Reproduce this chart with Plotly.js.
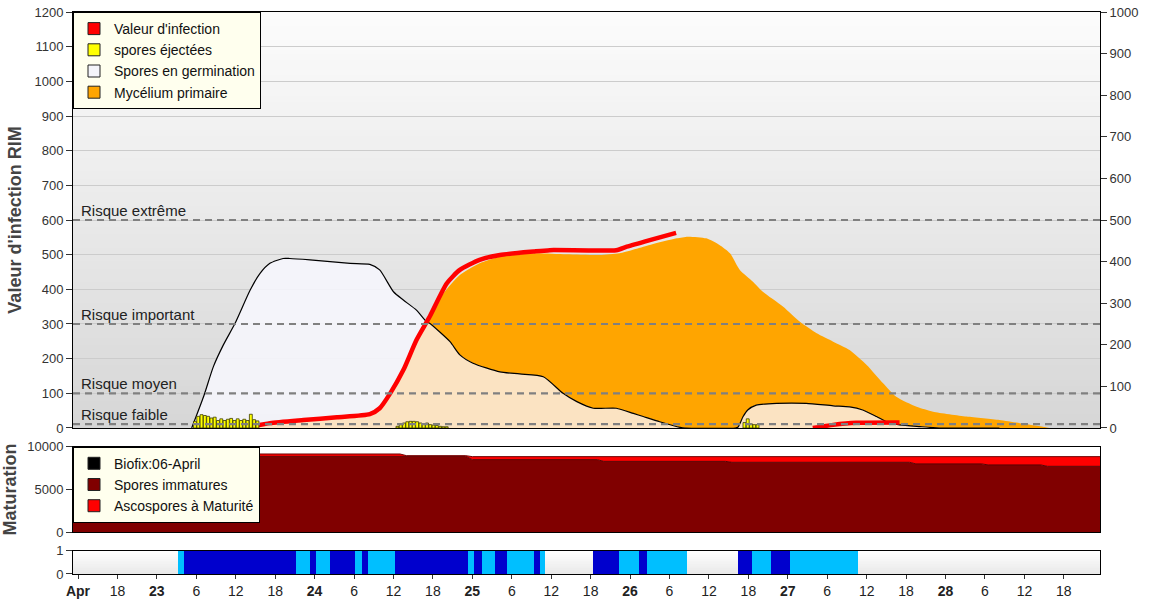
<!DOCTYPE html>
<html><head><meta charset="utf-8">
<script src="https://cdn.plot.ly/plotly-3.0.1.min.js"></script>
<style>html,body{margin:0;padding:0;background:#fff}#chart{width:1152px;height:599px}</style>
</head><body><div id="chart"></div>
<script>
const FONT = 'Arial, "Liberation Sans", sans-serif';
const X_RANGE = [11.24, 167.5];   // hours since 22 April 00:00

// x-axis ticks (every 6 h)
const tickHours = [12,18,24,30,36,42,48,54,60,66,72,78,84,90,96,102,108,114,120,126,132,138,144,150,156,162];
const tickLabels = ['<b>Apr</b>','18','<b>23</b>','6','12','18','<b>24</b>','6','12','18','<b>25</b>','6','12','18','<b>26</b>','6','12','18','<b>27</b>','6','12','18','<b>28</b>','6','12','18'];

// Spores en germination
const germHours  = [29.3,31.1,32.6,34.1,35.9,38.2,39.7,41.2,43.2,44.2,47.3,53.4,56.4,57.9,60.0,61.5,63.5,65.0,65.5,68.6,70.1,72.1,76.2,79.2,82.8,85.8,87.9,90.4,93.9,96.5,98.0,100.5,103.6,104.5,112.0,112.4,113.2,113.9,115.2,118.3,122.8,126.9,129.4,131.4,133.5,135.0,137.0,140.1,143.1,152.2];
const germValues = [0,90,177,239,302,398,446,475,489,489,485,475,472,456,393,369,340,307,302,249,211,187,162,156,148,100,76,57,57,42,33,18,2,0,0,2,33,52,66,71,71,64,61,52,33,18,9,4,0,0];

// infected part of germinating spores (peach area)
const incubHours  = [38.4,41.2,46.3,51.4,56.4,57.9,59.5,61.5,63.5,65.0,65.5,68.6,70.1,72.1,76.2,79.2,82.8,85.8,87.9,90.4,93.9,96.5,98.0,100.5,103.6,104.5,112.0,112.4,113.2,113.9,115.2,118.3,122.8,126.9,129.4,131.4,133.5,135.0,137.0,140.1,143.1];
const incubValues = [4,14,23,31,40,57,100,167,254,307,302,249,211,187,162,156,148,100,76,57,57,42,33,18,2,0,0,2,33,52,66,71,71,64,61,52,33,18,9,4,0];

// Mycélium primaire
const myceliumHours  = [65.0,67.6,70.1,73.1,76.2,81.3,86.3,91.4,94.4,99.0,103.1,104.8,107.6,109.6,111.2,112.7,114.7,116.2,119.3,121.8,124.4,126.9,129.4,132.0,134.5,136.5,139.6,142.1,147.2,152.2,155.3,159.1,159.8];
const myceliumValues = [307,388,441,475,494,504,501,499,504,528,547,552,547,528,504,456,422,393,350,307,273,249,225,182,129,90,61,47,33,23,14,3,0];

// Valeur d'infection
const infectionHours  = [38.4,41.2,46.3,51.4,56.4,57.9,59.5,61.5,63.5,65.5,68.1,70.1,73.1,76.2,81.3,83.8,93.9,95.5,99.0,103.0,null,123.8,126.9,130.4,137.0];
const infectionValues = [4,14,23,31,40,57,100,167,254,321,417,456,485,499,509,513,513,523,542,563,null,0,9,15,16];

// spores éjectées (right axis units)
const ejectHours  = [29.8,30.3,30.8,31.3,31.8,32.3,32.8,33.3,33.8,34.3,34.8,35.3,35.8,36.3,36.8,37.3,37.8,38.3,38.8,39.3,
                     60.6,61.1,61.6,62.1,62.6,63.1,63.6,64.1,64.6,65.1,65.6,66.1,66.6,67.1,67.6,68.1,
                     113.4,113.9,114.4,114.9,115.4];
const ejectValues = [16,28,32,30,28,24,26,18,22,18,21,23,18,22,18,21,18,33,20,17,
                     4,8,12,15,16,16,15,12,10,12,8,7,6,4,3,3,
                     13,22,10,8,8];

// Maturation
const matHours       = [11.24,61.0,62.0,71.0,72.0,91.0,92.0,110.5,111.5,138.5,139.5,149.5,150.5,158.5,159.5,167.5];
const immatureValues = [8870,8870,8870,8870,8490,8490,8290,8290,8180,8180,7990,7990,7870,7870,7710,7710];
const matureValues   = [280,280,80,80,350,350,550,550,660,660,850,850,970,970,1130,1130];

// wetness strip (1 = light, 2 = dark)
const wetStart = [27.2,28.1,45.2,47.3,48.2,50.3,54.1,55.2,56.1,60.3,71.3,72.3,73.4,75.4,77.3,81.4,82.3,90.3,94.3,97.4,98.5,112.4,114.5,117.5,120.4];
const wetEnd   = [28.1,45.2,47.3,48.2,50.3,54.1,55.2,56.1,60.3,71.3,72.3,73.4,75.4,77.3,81.4,82.3,83.0,94.3,97.4,98.5,104.6,114.5,117.5,120.4,130.7];
const wetLevel = [1,2,1,2,1,2,1,2,1,2,1,2,1,2,1,2,1,2,1,2,1,2,1,2,1];

// risk levels
const riskLevels = [600,300,100,11];
const riskLabels = ['Risque extrême','Risque important','Risque moyen','Risque faible'];

// legends
const legend1Names  = ["Valeur d'infection","spores éjectées","Spores en germination","Mycélium primaire"];
const legend1Colors = ['#ff0000','#ffff00','#f4f4fa','#ffa500'];
const legend2Names  = ['Biofix:06-April','Spores immatures','Ascospores à Maturité'];
const legend2Colors = ['#000000','#800000','#ff0000'];

const SM = 0.6;
const traces = [];
traces.push({type:'scatter', mode:'lines', x:myceliumHours, y:myceliumValues, fill:'tozeroy', fillcolor:'#ffa500', line:{width:0, color:'#ffa500', shape:'spline', smoothing:SM}, showlegend:false, hoverinfo:'skip'});
traces.push({type:'scatter', mode:'lines', x:germHours, y:germValues, fill:'tozeroy', fillcolor:'rgba(246,246,253,0.88)', line:{width:0, shape:'spline', smoothing:SM}, showlegend:false, hoverinfo:'skip'});
traces.push({type:'scatter', mode:'lines', x:incubHours, y:incubValues, fill:'tozeroy', fillcolor:'#fbe3c2', line:{width:0, shape:'spline', smoothing:SM}, showlegend:false, hoverinfo:'skip'});
traces.push({type:'scatter', mode:'lines', x:germHours, y:germValues, line:{width:1.2, color:'#000', shape:'spline', smoothing:SM}, showlegend:false, hoverinfo:'skip'});
traces.push({type:'scatter', mode:'lines', x:infectionHours, y:infectionValues, line:{width:4.5, color:'#ff0000', shape:'spline', smoothing:SM}, connectgaps:false, showlegend:false, hoverinfo:'skip'});
traces.push({type:'bar', x:ejectHours, y:ejectValues, xaxis:'x', yaxis:'y4', width:0.44, marker:{color:'#ffff00', line:{color:'#3a3a00', width:0.8}}, showlegend:false, hoverinfo:'skip'});

traces.push({type:'scatter', mode:'lines', x:matHours, y:immatureValues, xaxis:'x2', yaxis:'y2', stackgroup:'mat', fillcolor:'#800000', line:{width:1, color:'#5a0000'}, showlegend:false, hoverinfo:'skip'});
traces.push({type:'scatter', mode:'lines', x:matHours, y:matureValues, xaxis:'x2', yaxis:'y2', stackgroup:'mat', fillcolor:'#ff0000', line:{width:1, color:'#700000'}, showlegend:false, hoverinfo:'skip'});

function wetTrace(level, color){
  const idx = wetLevel.map((l,i)=> l===level ? i : -1).filter(i=>i>=0);
  return {type:'bar', orientation:'h', xaxis:'x3', yaxis:'y3',
    y: idx.map(()=>0.5), x: idx.map(i=>wetEnd[i]-wetStart[i]), base: idx.map(i=>wetStart[i]),
    width: idx.map(()=>1), marker:{color:color, line:{width:0}}, showlegend:false, hoverinfo:'skip'};
}
traces.push(wetTrace(1,'#00bfff'));
traces.push(wetTrace(2,'#0000cd'));

legend1Names.forEach((n,i)=> traces.push({type:'bar', x:[null], y:[null], xaxis:'x', yaxis:'y', name:n, legend:'legend',
  marker:{color:legend1Colors[i], line:{color:'#222', width:1}}, hoverinfo:'skip'}));
legend2Names.forEach((n,i)=> traces.push({type:'bar', x:[null], y:[null], xaxis:'x2', yaxis:'y2', name:n, legend:'legend2',
  marker:{color:legend2Colors[i], line:{color:'#222', width:1}}, hoverinfo:'skip'}));

const shapes = [];
const N = 60;
for (let i=0;i<N;i++){
  const c = Math.round(214 + (252-214)*(i+0.5)/N);
  shapes.push({type:'rect', xref:'paper', yref:'y domain', x0:0, x1:1, y0:i/N, y1:(i+1)/N+0.003,
    fillcolor:`rgb(${c},${c},${c})`, line:{width:0}, layer:'below'});
}
const M = 12;
for (let i=0;i<M;i++){
  const c = Math.round(232 + (255-232)*(i+0.5)/M);
  shapes.push({type:'rect', xref:'paper', yref:'y3 domain', x0:0, x1:1, y0:i/M, y1:(i+1)/M+0.01,
    fillcolor:`rgb(${c},${c},${c})`, line:{width:0}, layer:'below'});
}
riskLevels.forEach(v => shapes.push({type:'line', xref:'paper', x0:0, x1:1, yref:'y', y0:v, y1:v,
  line:{color:'#808080', width:2.2, dash:'7px,5px'}, layer:'above'}));

const annotations = riskLevels.map((v,i)=>({xref:'paper', x:0, xshift:6, xanchor:'left', yref:'y', y:v, yanchor:'bottom', yshift:-1,
  text:riskLabels[i], showarrow:false, font:{family:FONT, size:15, color:'#222'}}));

const tickfontY = {family:FONT, size:13, color:'#333'};
const axisBox = {showline:true, linecolor:'#000', linewidth:1, mirror:true, zeroline:false};
const legendBase = {xanchor:'left', yanchor:'top', bgcolor:'#ffffee', bordercolor:'#000', borderwidth:1,
  font:{family:FONT, size:14, color:'#111'}, itemwidth:30, tracegroupgap:0, traceorder:'normal'};

const layout = {
  width:1152, height:599,
  margin:{l:73, r:52, t:12, b:25},
  paper_bgcolor:'#ffffff', plot_bgcolor:'rgba(0,0,0,0)',
  font:{family:FONT, color:'#333'},
  barmode:'overlay', bargap:0,
  showlegend:true,
  legend: Object.assign({x:0, y:1}, legendBase),
  legend2: Object.assign({x:0, y:0.2265}, legendBase),
  xaxis: Object.assign({domain:[0,1], range:X_RANGE, anchor:'y', showticklabels:false, ticks:'', showgrid:false}, axisBox),
  yaxis: Object.assign({domain:[0.2598,1], range:[0,1200], tick0:0, dtick:100, ticks:'outside', ticklen:6, tickcolor:'#333',
    showgrid:true, gridcolor:'#cccccc', gridwidth:1, tickfont:tickfontY,
    title:{text:"<b>Valeur d'infection RIM</b>", font:{family:FONT, size:18, color:'#444'}, standoff:8}}, axisBox),
  yaxis4: {overlaying:'y', side:'right', anchor:'x', range:[0,1000], tick0:0, dtick:100, ticks:'outside', ticklen:6, tickcolor:'#333',
    showgrid:false, zeroline:false, showline:false, tickfont:tickfontY},
  xaxis2: Object.assign({anchor:'y2', matches:'x', showticklabels:false, ticks:'', showgrid:false}, axisBox),
  yaxis2: Object.assign({domain:[0.0742,0.2265], range:[0,10000], tickmode:'array', tickvals:[0,5000,10000], ticktext:['0','5000','10000'],
    ticks:'outside', ticklen:6, tickcolor:'#333', showgrid:false, tickfont:tickfontY,
    title:{text:'<b>Maturation</b>', font:{family:FONT, size:18, color:'#444'}, standoff:12}}, axisBox),
  xaxis3: Object.assign({anchor:'y3', matches:'x', tickmode:'array', tickvals:tickHours, ticktext:tickLabels, ticks:'outside', ticklen:4,
    tickcolor:'#333', showgrid:false, tickfont:{family:FONT, size:14, color:'#222'}}, axisBox),
  yaxis3: Object.assign({domain:[0,0.0415], range:[0,1], tickvals:[0,1], ticks:'outside', ticklen:6, tickcolor:'#333',
    showgrid:false, tickfont:tickfontY}, axisBox),
  shapes: shapes,
  annotations: annotations
};

Plotly.newPlot('chart', traces, layout, {staticPlot:true, displayModeBar:false});
</script></body></html>
